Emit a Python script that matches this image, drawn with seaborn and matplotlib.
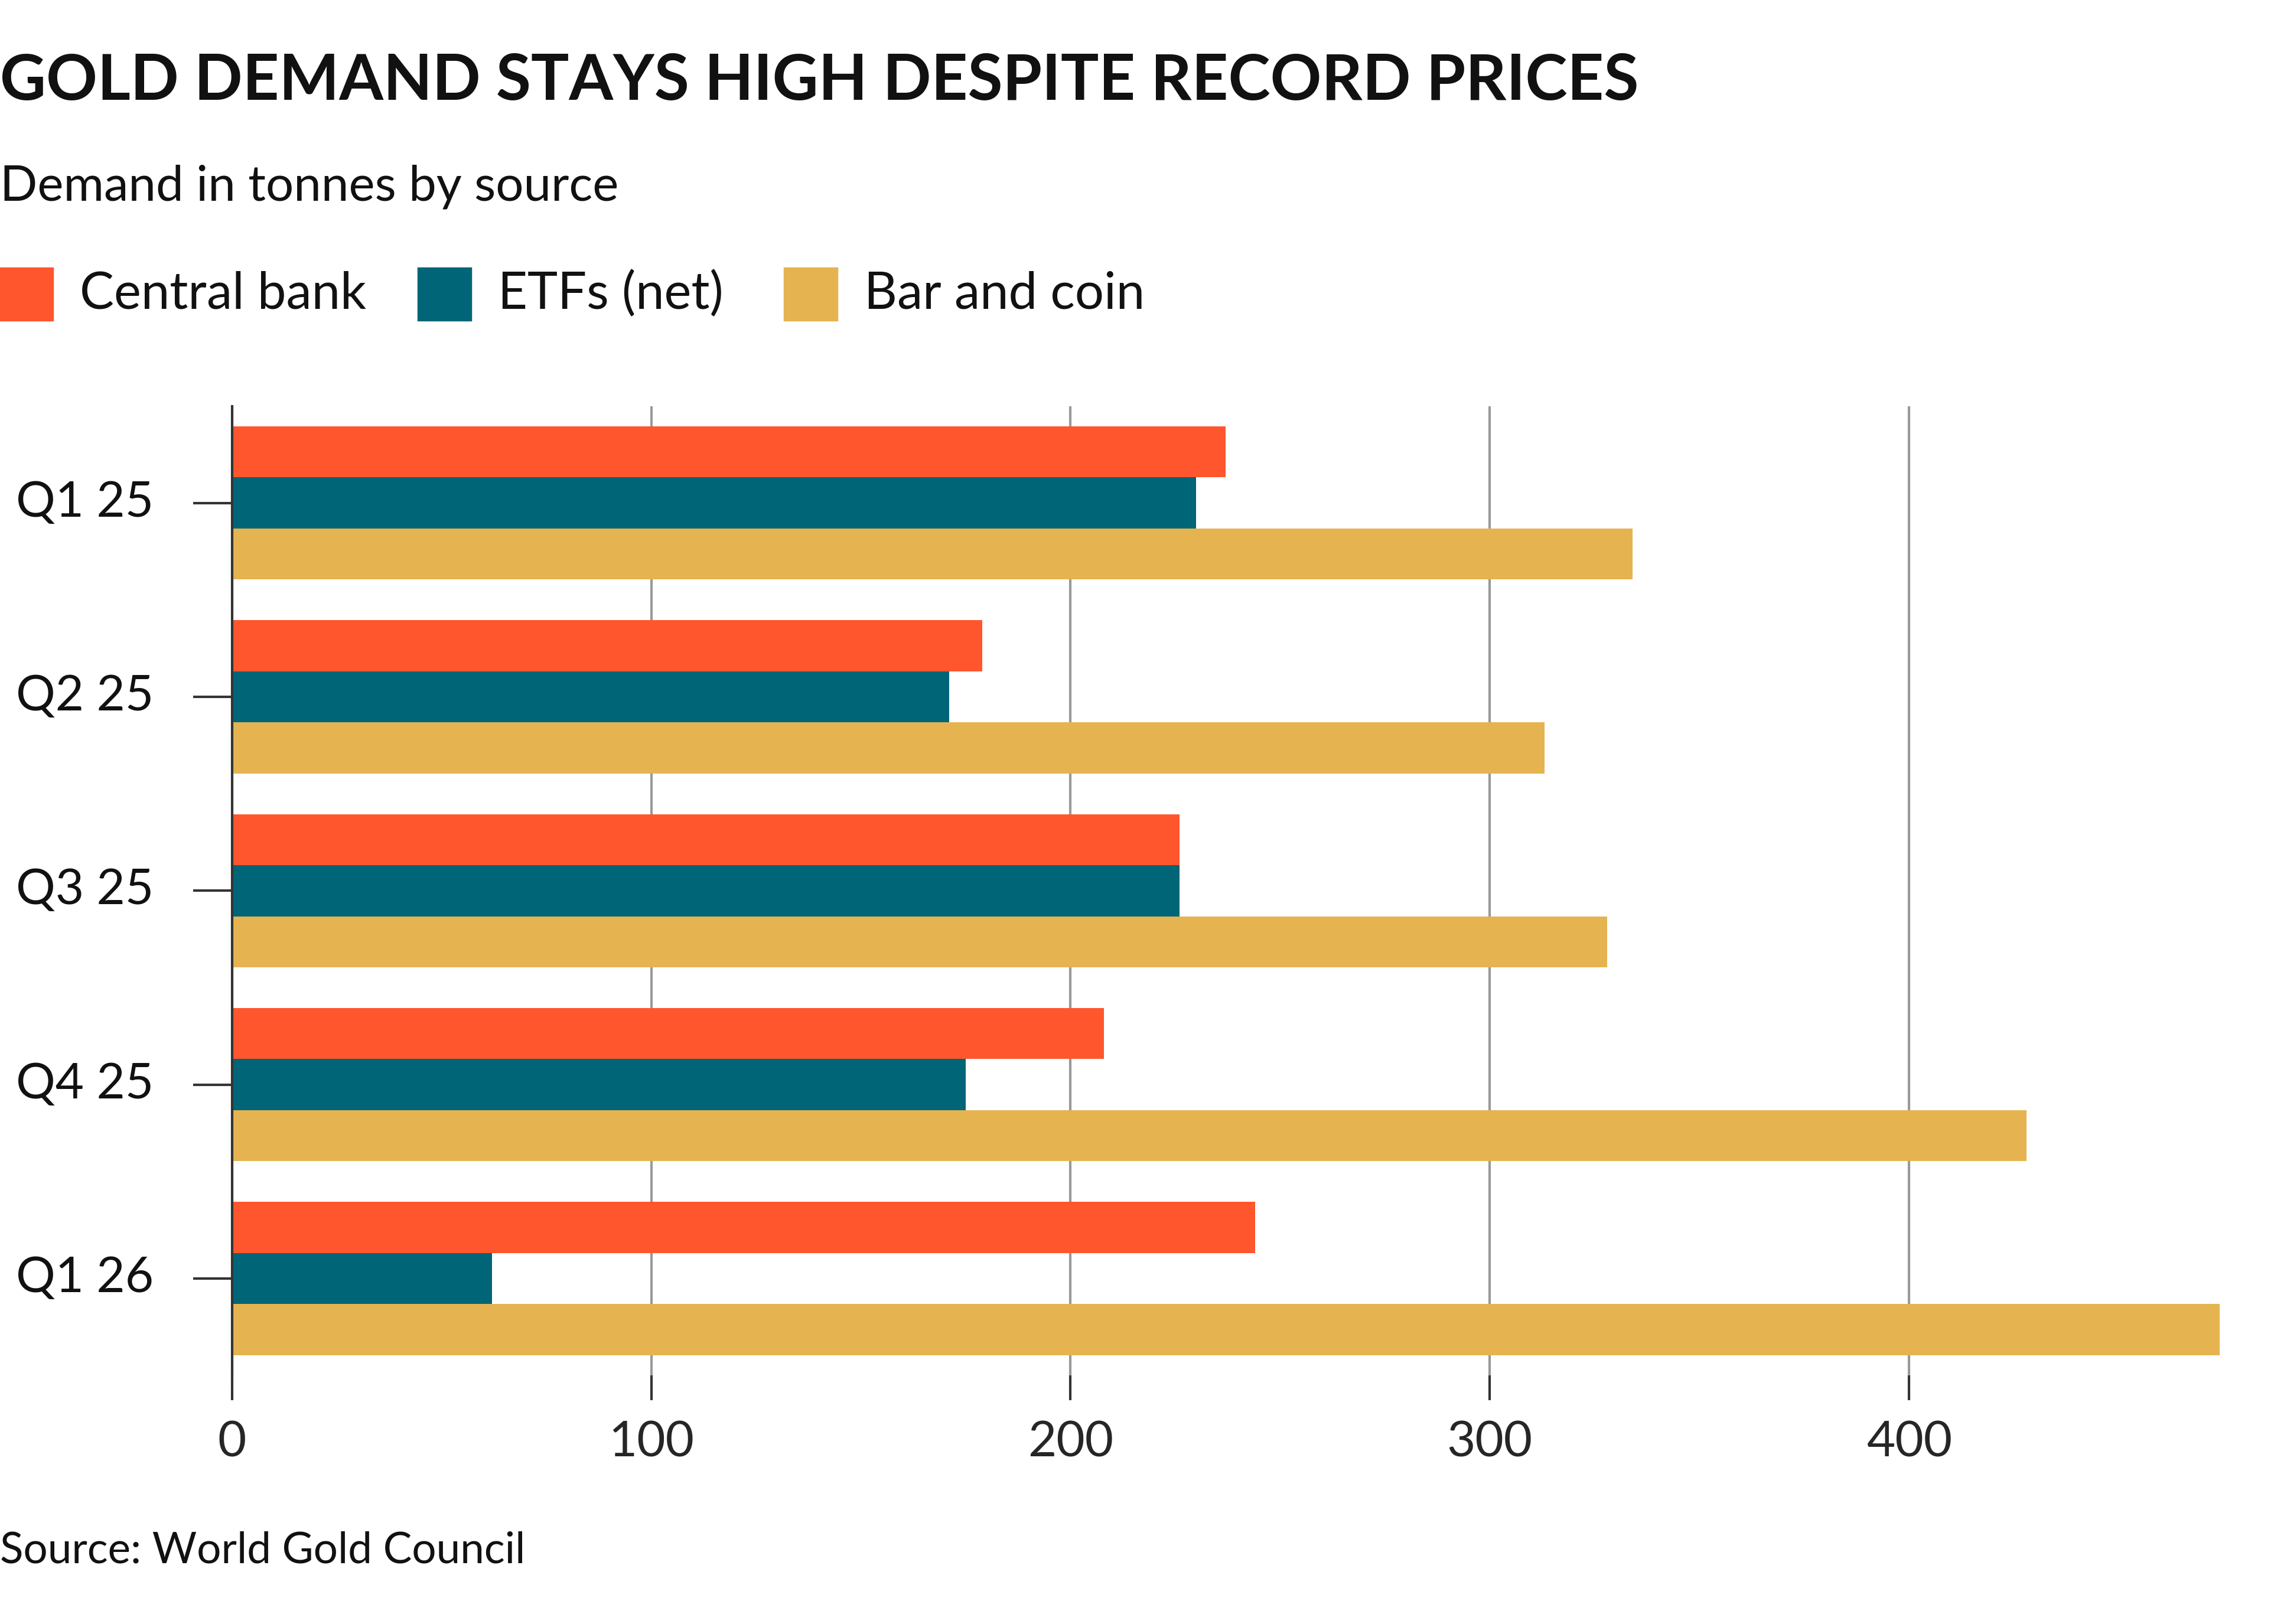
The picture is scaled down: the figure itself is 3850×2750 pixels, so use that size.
import matplotlib
matplotlib.use("Agg")
import matplotlib.pyplot as plt
import matplotlib.transforms as mtransforms
import seaborn as sns
import pandas as pd

quarters = ["Q1 25", "Q2 25", "Q3 25", "Q4 25", "Q1 26"]
series = ["Central bank", "ETFs (net)", "Bar and coin"]
central_bank = [237, 179, 226, 208, 244]
etfs = [230, 171, 226, 175, 62]
bar_coin = [334, 313, 328, 428, 474]
colors = ["#FF562D", "#006577", "#E5B350"]
xticks = [0, 100, 200, 300, 400]

df = pd.DataFrame({
    "quarter": quarters * 3,
    "series": [s for s in series for _ in quarters],
    "value": central_bank + etfs + bar_coin,
})

sns.set_theme(style="white")
plt.rcParams["font.family"] = ["Lato", "DejaVu Sans"]

fig = plt.figure(figsize=(15.4, 11), dpi=250)
fig.patch.set_facecolor("white")
ax = fig.add_axes([0.102, 0.153, 0.874, 0.597])
sns.barplot(data=df, y="quarter", x="value", hue="series", order=quarters,
            hue_order=series, palette=colors, orient="h", width=0.79,
            saturation=1, ax=ax, legend=False, linewidth=0)
ax.set_xlim(0, 474)
ax.set_ylim(4.5, -0.5)
ax.set_xticks(xticks)
ax.set_xlabel("")
ax.set_ylabel("")
ax.grid(axis="x", color="#999999", linewidth=1.2)
ax.set_axisbelow(True)
for s in ["top", "right", "bottom"]:
    ax.spines[s].set_visible(False)
ax.spines["left"].set_color("#333333")
ax.spines["left"].set_linewidth(1.2)
ax.tick_params(axis="y", length=19, width=1.2, color="#333333", labelleft=False, left=True)
ax.tick_params(axis="x", length=12, width=1.2, color="#333333", labelsize=24, pad=10, bottom=True)

trans = mtransforms.blended_transform_factory(fig.transFigure, ax.transData)
for i, q in enumerate(quarters):
    fig.text(0.007, i, q, transform=trans, fontsize=24, va="center", ha="left", color="#111111")

fig.text(0.0, 0.95, "GOLD DEMAND STAYS HIGH DESPITE RECORD PRICES", fontsize=31,
         fontweight="bold", va="center", ha="left", color="#111111")
fig.text(0.0, 0.885, "Demand in tonnes by source", fontsize=24, va="center", color="#111111")
lx = [0.0, 0.184, 0.345]
for x, s, c in zip(lx, series, colors):
    fig.patches.append(matplotlib.patches.Rectangle((x, 0.803), 0.023, 0.032,
                       transform=fig.transFigure, color=c))
    fig.text(x + 0.035, 0.819, s, fontsize=25, va="center", color="#111111")
fig.text(0.0, 0.045, "Source: World Gold Council", fontsize=21, va="center", color="#111111")
fig.savefig("out.png", dpi=250, facecolor="white")
